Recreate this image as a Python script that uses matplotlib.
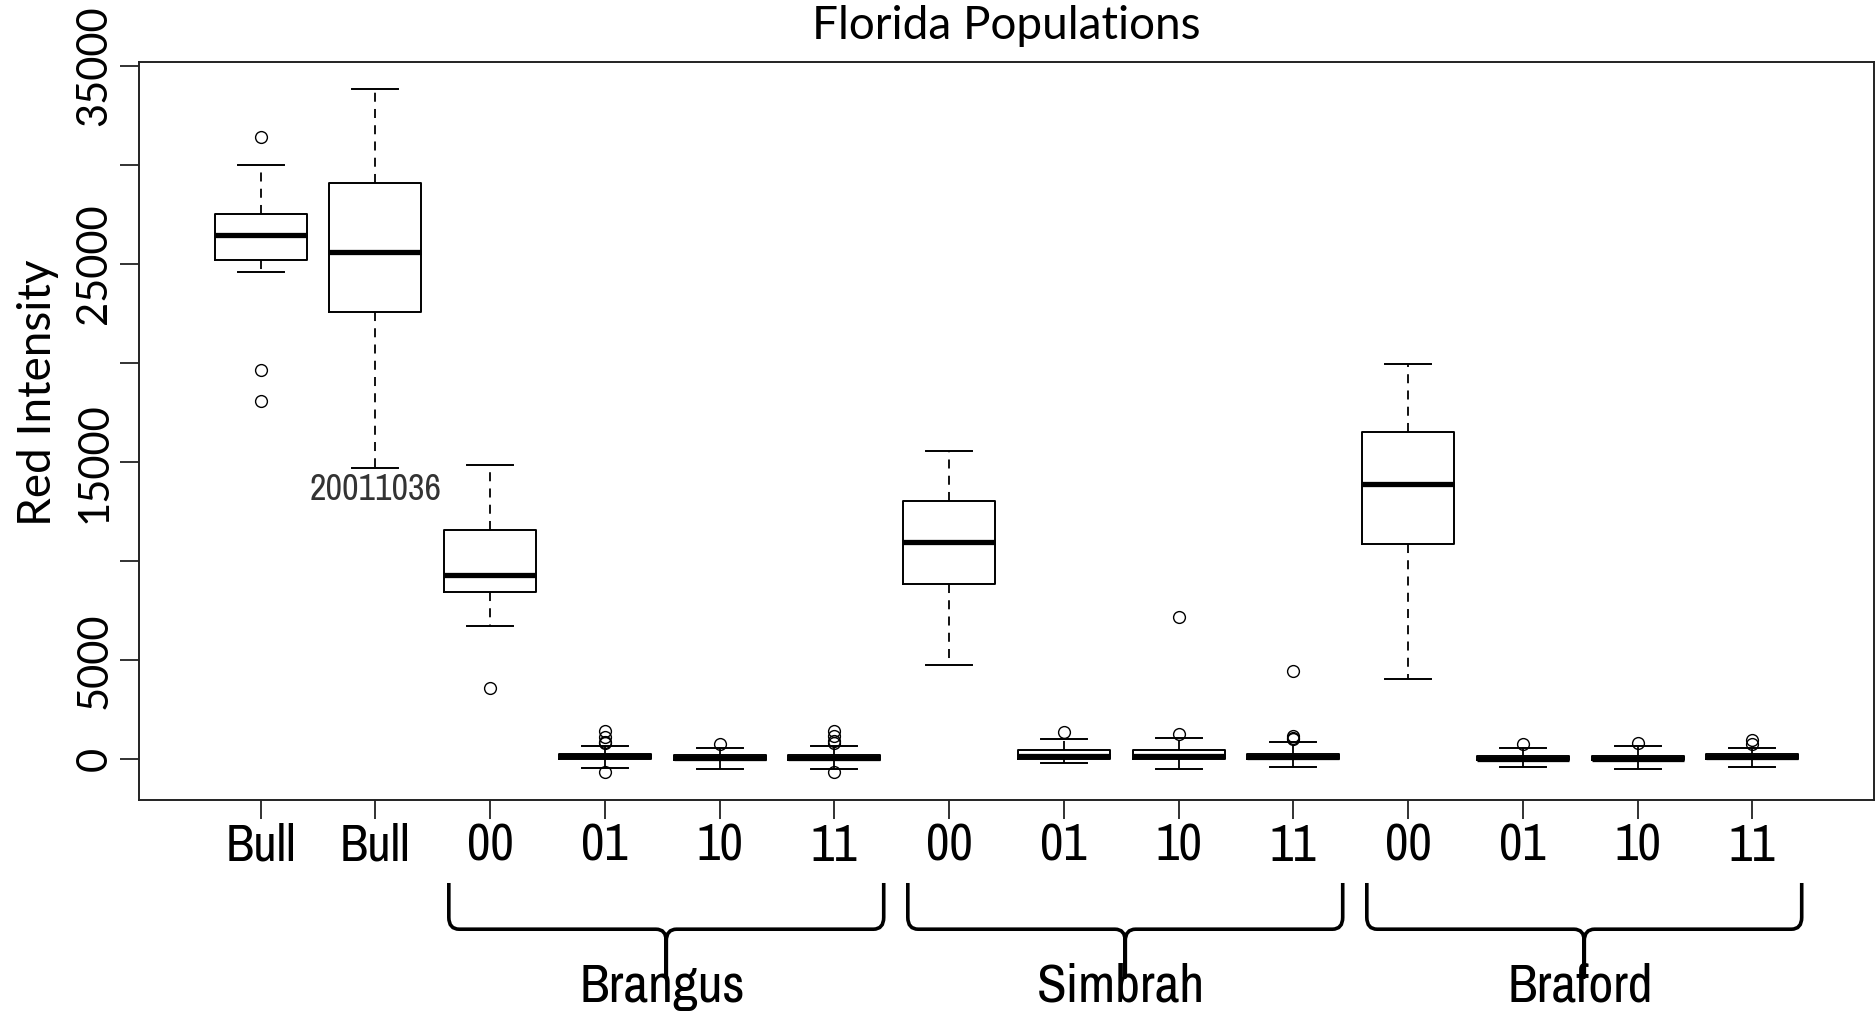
import matplotlib
matplotlib.use("Agg")
import matplotlib.pyplot as plt
from matplotlib import font_manager
from matplotlib.font_manager import FontProperties
from matplotlib.path import Path
from matplotlib.patches import PathPatch
import matplotlib.transforms as mtransforms

# data
tick_labels = ["Bull", "Bull", "00", "01", "10", "11", "00", "01", "10", "11", "00", "01", "10", "11"]
q1s      = [25200, 22560, 8450,   20,  -30,  -40, 8870,   30,   30,   20, 10870,  -30,  -30,   20]
medians  = [26460, 25590, 9320,  150,   60,   60, 10970, 170,  170,  130, 13910,   40,   40,  120]
q3s      = [27535, 29080, 11580, 280,  200,  200, 13050, 480,  480,  280, 16530,  180,  180,  260]
whislo   = [24610, 14700, 6720, -420, -470, -470, 4750, -200, -470, -390, 4080, -390, -500, -390]
whishi   = [30000, 33840, 14870, 680,  570,  680, 15560, 1040, 1060, 870, 19940, 590,  670,  590]
fliers = [
    [31400, 19650, 18100],
    [],
    [3600],
    [1430, 1150, 900, 850, -650],
    [800],
    [1430, 1180, 920, 850, -660],
    [],
    [1380],
    [1260, 7190],
    [1200, 1100, 1050, 4450],
    [],
    [760],
    [840],
    [1000, 760],
]
groups = ["Brangus", "Simbrah", "Braford"]
group_members = [[3, 4, 5, 6], [7, 8, 9, 10], [11, 12, 13, 14]]
note_text = "20011036"
note_pos = (2, 13600)


def pick_narrow():
    # look for a condensed / narrow sans face, best first
    fl = font_manager.fontManager.ttflist
    regular = [f for f in fl if f.style == "normal" and f.weight in (400, "normal", "regular")]
    for test in (lambda f: f.name == "Liberation Sans Narrow",
                 lambda f: "Narrow" in f.name,
                 lambda f: f.name == "DejaVu Sans" and f.stretch == "condensed",
                 lambda f: "Condensed" in f.name,
                 lambda f: f.stretch in ("condensed", "semi-condensed", "extra-condensed")):
        for f in regular:
            if test(f):
                return f.fname
    return None


narrow_file = pick_narrow()


def narrow_fp(size):
    if narrow_file:
        return FontProperties(fname=narrow_file, size=size)
    return FontProperties(family="Roboto", size=size)


main_font = "Lato"

fig = plt.figure(figsize=(18.76, 10.11), dpi=100)
ax = fig.add_axes([139/1876, 1 - 800/1011, (1874 - 139)/1876, (800 - 61.7)/1011])

positions = list(range(1, len(tick_labels) + 1))
stats = []
for i in range(len(positions)):
    stats.append(dict(med=medians[i], q1=q1s[i], q3=q3s[i],
                      whislo=whislo[i], whishi=whishi[i], fliers=fliers[i]))

ax.bxp(stats, positions=positions, widths=0.8, capwidths=0.4,
       boxprops=dict(color="black", linewidth=1.4),
       medianprops=dict(color="black", linewidth=3.8, solid_capstyle="butt"),
       whiskerprops=dict(color="black", linewidth=1.3, linestyle=(0, (5, 4))),
       capprops=dict(color="black", linewidth=1.4),
       flierprops=dict(marker="o", markerfacecolor="none", markeredgecolor="black",
                       markersize=8.5, markeredgewidth=1.0, linestyle="none"))

ax.set_xlim(-0.06, 15.06)
ax.set_ylim(-2050, 35215)

yt = [0, 5000, 10000, 15000, 20000, 25000, 30000, 35000]
ax.set_yticks(yt)
ax.set_yticklabels(["0", "5000", "", "15000", "", "25000", "", "35000"],
                   family=main_font, fontsize=30, rotation=90, va="center")
ax.set_xticks(positions)
ax.set_xticklabels(tick_labels)
for lab in ax.get_xticklabels():
    lab.set_fontproperties(narrow_fp(37))
ax.tick_params(axis="both", direction="out", length=13.5, width=1.3, color="#222222")
ax.tick_params(axis="y", pad=5)
ax.tick_params(axis="x", pad=3)
for s in ax.spines.values():
    s.set_linewidth(1.4)
    s.set_color("#222222")

ax.set_title("Florida Populations", family=main_font, fontsize=33, pad=16)
ax.set_ylabel("Red Intensity", family=main_font, fontsize=33)
ax.yaxis.set_label_coords(-0.046, 0.551)

ax.text(note_pos[0], note_pos[1], note_text, fontproperties=narrow_fp(26),
        color="#333333", ha="center", va="center")

# curly braces under the x axis for each breed
trans = mtransforms.blended_transform_factory(ax.transData, ax.transAxes)
y_top, y_mid, y_tip = -0.1124, -0.175, -0.2397
rx, ry = 0.09, 0.016
for name, members in zip(groups, group_members):
    x0 = members[0] - 0.36
    x1 = members[-1] + 0.43
    xc = (x0 + x1) / 2
    verts = [(x0, y_top), (x0, y_mid + ry), (x0, y_mid), (x0 + rx, y_mid),
             (xc - rx, y_mid), (xc, y_mid), (xc, y_mid - ry), (xc, y_tip),
             (xc, y_mid - ry), (xc, y_mid), (xc + rx, y_mid),
             (x1 - rx, y_mid), (x1, y_mid), (x1, y_mid + ry), (x1, y_top)]
    codes = [Path.MOVETO, Path.LINETO, Path.CURVE3, Path.CURVE3,
             Path.LINETO, Path.CURVE3, Path.CURVE3, Path.LINETO,
             Path.LINETO, Path.CURVE3, Path.CURVE3,
             Path.LINETO, Path.CURVE3, Path.CURVE3, Path.LINETO]
    ax.add_patch(PathPatch(Path(verts, codes), transform=trans, clip_on=False,
                           facecolor="none", edgecolor="black", linewidth=2.6,
                           joinstyle="round"))
    ax.text((members[0] + members[-1]) / 2, -0.2736, name, transform=trans,
            fontproperties=narrow_fp(39), ha="center", va="baseline")

fig.savefig("out.png", dpi=100)
